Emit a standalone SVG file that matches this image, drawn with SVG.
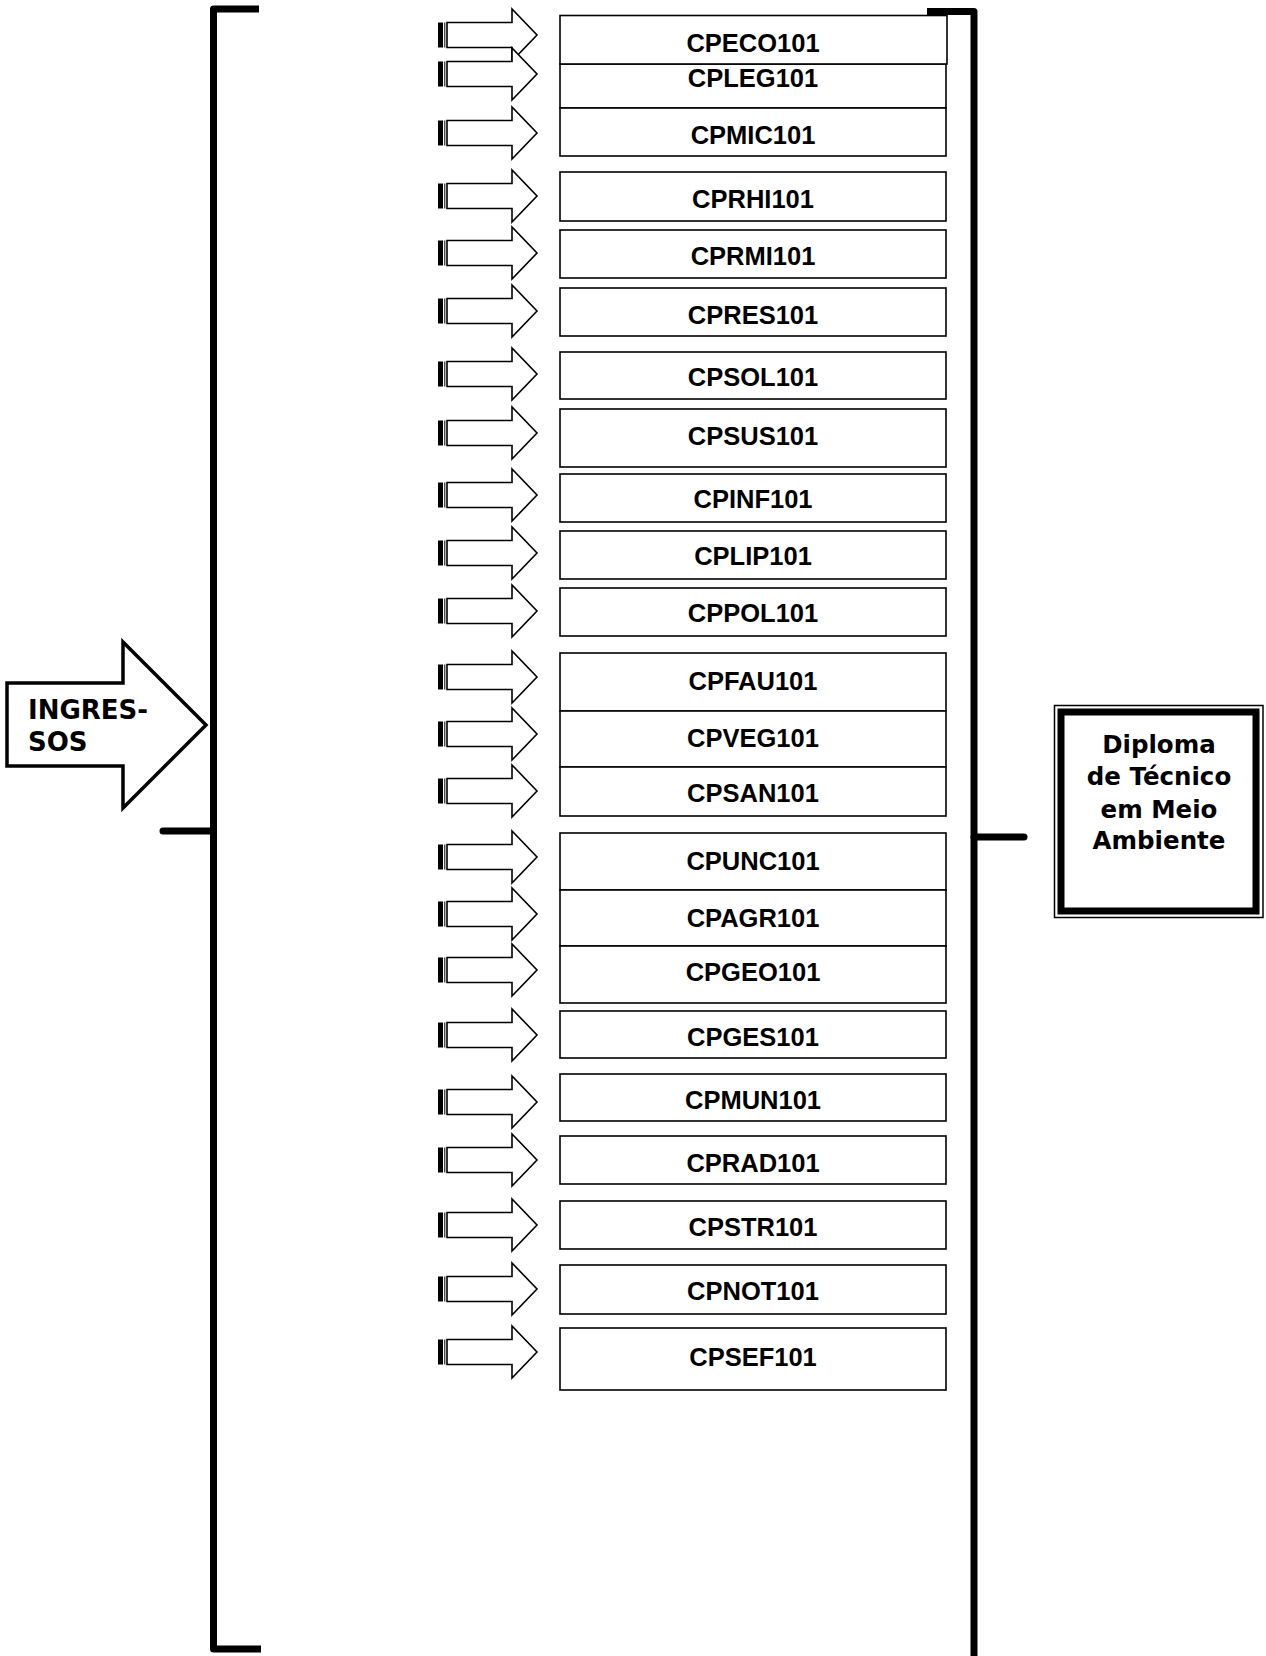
<svg xmlns="http://www.w3.org/2000/svg" xmlns:xlink="http://www.w3.org/1999/xlink" width="1266" height="1656" viewBox="0 0 1266 1656">
<style>
.box{fill:#fff;stroke:#000;stroke-width:1.6}
.lbl{font-family:"Liberation Sans",Arial,sans-serif;font-weight:bold;font-size:25.5px;fill:#000;text-anchor:middle}
.vtx{font-family:"DejaVu Sans",Verdana,sans-serif;font-weight:bold;fill:#000}
.br{fill:none;stroke:#000;stroke-width:7;stroke-linejoin:round}
</style>
<defs>
<g id="ar">
<rect x="438" y="-12.5" width="5" height="25" fill="#000"/>
<line x1="444.8" y1="-12.5" x2="444.8" y2="12.5" stroke="#000" stroke-width="1"/>
<polygon points="447,-12.5 512,-12.5 512,-26 537,0 512,26 512,12.5 447,12.5" fill="#fff" stroke="#000" stroke-width="1.6"/>
</g>
</defs>
<rect width="1266" height="1656" fill="#fff"/>

<g id="connectors">
<path class="br" d="M259,9 L213.5,9 L213.5,1649 L261,1649"/>
<path class="br" d="M163,831 L213.5,831" stroke-linecap="round"/>
<path class="br" d="M927,11.5 L974,11.5 L974,1656"/>
<path class="br" d="M974,837 L1024,837" stroke-linecap="round"/>
<use xlink:href="#ar" y="35"/>
<use xlink:href="#ar" y="74"/>
<use xlink:href="#ar" y="133"/>
<use xlink:href="#ar" y="196"/>
<use xlink:href="#ar" y="253"/>
<use xlink:href="#ar" y="311"/>
<use xlink:href="#ar" y="374"/>
<use xlink:href="#ar" y="433"/>
<use xlink:href="#ar" y="495"/>
<use xlink:href="#ar" y="553"/>
<use xlink:href="#ar" y="611"/>
<use xlink:href="#ar" y="677"/>
<use xlink:href="#ar" y="734"/>
<use xlink:href="#ar" y="791"/>
<use xlink:href="#ar" y="857"/>
<use xlink:href="#ar" y="914"/>
<use xlink:href="#ar" y="970"/>
<use xlink:href="#ar" y="1035"/>
<use xlink:href="#ar" y="1102"/>
<use xlink:href="#ar" y="1160"/>
<use xlink:href="#ar" y="1225"/>
<use xlink:href="#ar" y="1289"/>
<use xlink:href="#ar" y="1352"/>
</g>

<g id="ingressos">
<polygon points="7,683 123,683 123,642 206,725 123,808 123,766 7,766" fill="#fff" stroke="#000" stroke-width="3.5" stroke-linejoin="miter"/>
<text class="vtx" font-size="26" x="28" y="719">INGRES-</text>
<text class="vtx" font-size="26" x="28" y="751">SOS</text>
</g>

<g id="diploma">
<rect x="1054.5" y="705.5" width="208.5" height="212" fill="#fff" stroke="#000" stroke-width="1.5"/>
<rect x="1061" y="712" width="195" height="199" fill="none" stroke="#000" stroke-width="7"/>
<text class="vtx" font-size="24.5" text-anchor="middle" x="1159" y="753">Diploma</text>
<text class="vtx" font-size="24.5" text-anchor="middle" x="1159" y="785">de Técnico</text>
<text class="vtx" font-size="24.5" text-anchor="middle" x="1159" y="818">em Meio</text>
<text class="vtx" font-size="24.5" text-anchor="middle" x="1159" y="849">Ambiente</text>
</g>

<g id="CPLEG101"><rect class="box" x="560" y="64" width="386" height="44"/><text class="lbl" x="753" y="87">CPLEG101</text></g>
<g id="CPECO101"><rect class="box" x="560" y="15.5" width="387" height="48.5"/><text class="lbl" x="753" y="52">CPECO101</text></g>
<g id="CPMIC101"><rect class="box" x="560" y="108" width="386" height="48"/><text class="lbl" x="753" y="144">CPMIC101</text></g>
<g id="CPRHI101"><rect class="box" x="560" y="172" width="386" height="49"/><text class="lbl" x="753" y="208">CPRHI101</text></g>
<g id="CPRMI101"><rect class="box" x="560" y="230" width="386" height="48"/><text class="lbl" x="753" y="265">CPRMI101</text></g>
<g id="CPRES101"><rect class="box" x="560" y="288" width="386" height="48"/><text class="lbl" x="753" y="324">CPRES101</text></g>
<g id="CPSOL101"><rect class="box" x="560" y="352" width="386" height="47"/><text class="lbl" x="753" y="386">CPSOL101</text></g>
<g id="CPSUS101"><rect class="box" x="560" y="409" width="386" height="58"/><text class="lbl" x="753" y="445">CPSUS101</text></g>
<g id="CPINF101"><rect class="box" x="560" y="474" width="386" height="48"/><text class="lbl" x="753" y="508">CPINF101</text></g>
<g id="CPLIP101"><rect class="box" x="560" y="531" width="386" height="48"/><text class="lbl" x="753" y="565">CPLIP101</text></g>
<g id="CPPOL101"><rect class="box" x="560" y="588" width="386" height="48"/><text class="lbl" x="753" y="622">CPPOL101</text></g>
<g id="CPFAU101"><rect class="box" x="560" y="653" width="386" height="58"/><text class="lbl" x="753" y="690">CPFAU101</text></g>
<g id="CPVEG101"><rect class="box" x="560" y="711" width="386" height="56"/><text class="lbl" x="753" y="747">CPVEG101</text></g>
<g id="CPSAN101"><rect class="box" x="560" y="767" width="386" height="49"/><text class="lbl" x="753" y="802">CPSAN101</text></g>
<g id="CPUNC101"><rect class="box" x="560" y="833" width="386" height="57"/><text class="lbl" x="753" y="870">CPUNC101</text></g>
<g id="CPAGR101"><rect class="box" x="560" y="890" width="386" height="56"/><text class="lbl" x="753" y="927">CPAGR101</text></g>
<g id="CPGEO101"><rect class="box" x="560" y="946" width="386" height="57"/><text class="lbl" x="753" y="981">CPGEO101</text></g>
<g id="CPGES101"><rect class="box" x="560" y="1011" width="386" height="47"/><text class="lbl" x="753" y="1046">CPGES101</text></g>
<g id="CPMUN101"><rect class="box" x="560" y="1074" width="386" height="47"/><text class="lbl" x="753" y="1109">CPMUN101</text></g>
<g id="CPRAD101"><rect class="box" x="560" y="1136" width="386" height="48"/><text class="lbl" x="753" y="1172">CPRAD101</text></g>
<g id="CPSTR101"><rect class="box" x="560" y="1201" width="386" height="48"/><text class="lbl" x="753" y="1236">CPSTR101</text></g>
<g id="CPNOT101"><rect class="box" x="560" y="1265" width="386" height="49"/><text class="lbl" x="753" y="1300">CPNOT101</text></g>
<g id="CPSEF101"><rect class="box" x="560" y="1328" width="386" height="62"/><text class="lbl" x="753" y="1366">CPSEF101</text></g>
</svg>
